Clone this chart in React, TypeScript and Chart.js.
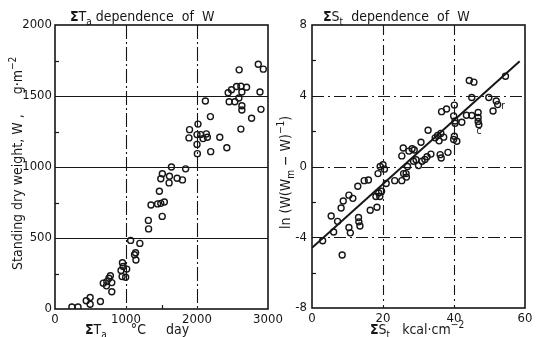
import { useEffect, useRef } from "react";
import { Chart, registerables } from "chart.js";

Chart.register(...registerables);

const FONT_FAMILY = "'DejaVu Sans Condensed', 'Liberation Sans Narrow', 'Liberation Sans', sans-serif";
const INK = "#161616";

// ---------- Left panel: ΣTa (°C day) vs standing dry weight W (g·m⁻²) ----------
const tempSumX = [
  238, 324, 440, 495, 495, 640, 680, 725, 730, 760,
  780, 800, 800, 930, 950, 945, 960, 995, 1010, 1065,
  1120, 1135, 1140, 1195, 1315, 1318, 1352, 1445, 1490, 1540,
  1510, 1470, 1490, 1512, 1612, 1640, 1607, 1720, 1795, 1840,
  1895, 1887, 2000, 2005, 2014, 2000, 2052, 2085, 2132, 2146,
  2118, 2189, 2193, 2321, 2420, 2439, 2486, 2557, 2618, 2698,
  2632, 2590, 2533, 2453, 2632, 2632, 2594, 2618, 2769, 2863,
  2934, 2887, 2901,
];
const dryWeightY = [
  14, 14, 58, 81, 33, 53, 182, 163, 193, 217,
  234, 186, 122, 271, 326, 228, 299, 224, 281, 483,
  382, 396, 345, 462, 624, 564, 732, 740, 744, 754,
  652, 829, 917, 952, 935, 1000, 888, 921, 909, 987,
  1263, 1205, 1159, 1094, 1302, 1228, 1228, 1200, 1233, 1210,
  1465, 1355, 1108, 1210, 1136, 1523, 1544, 1567, 1569, 1562,
  1528, 1486, 1459, 1459, 1431, 1401, 1684, 1267, 1343, 1724,
  1689, 1528, 1406,
];
const leftXTicks = [0, 1000, 2000, 3000];
const leftYTicks = [0, 500, 1000, 1500, 2000];
const leftXGrid = [1000, 2000];
const leftYGrid = [500, 1000, 1500];
const leftYMinor = [250, 750, 1250, 1750];
const leftXMinor = [1500];

// ---------- Right panel: ΣSt (kcal·cm⁻²) vs ln(W(Wm − W)⁻¹) ----------
const radSumX = [
  3.0, 5.4, 6.1, 7.2, 8.2, 8.5, 8.8, 10.4, 11.5, 10.4,
  10.8, 12.9, 13.1, 13.2, 13.5, 14.7, 15.9, 16.4, 18.0, 18.3,
  18.8, 19.1, 19.6, 18.6, 19.2, 20.0, 20.4, 20.9, 23.3, 25.3,
  25.8, 26.5, 26.6, 26.9, 25.3, 25.7, 27.3, 28.2, 28.8, 28.6,
  29.3, 30.0, 30.7, 31.0, 31.8, 32.4, 33.5, 32.7, 34.7, 35.4,
  36.3, 37.1, 35.8, 36.1, 36.4, 38.3, 36.5, 37.9, 40.1, 39.9,
  40.3, 40.3, 40.1, 39.9, 40.8, 42.2, 43.5, 45.0, 44.3, 45.6,
  45.0, 46.8, 46.8, 46.8, 47.0, 49.8, 51.9, 52.3, 51.0, 54.5,
];
const logRatioY = [
  -4.2, -2.8, -3.7, -3.1, -2.35, -5.0, -1.95, -1.62, -1.8, -3.45,
  -3.75, -1.12, -2.88, -3.13, -3.36, -0.8, -0.76, -2.47, -1.7, -2.3,
  -1.5, -1.7, -1.4, -0.4, 0.0, 0.1, -0.15, -0.96, -0.8, -0.8,
  -0.4, -0.4, -0.6, 0.0, 0.6, 1.05, 0.87, 1.0, 0.93, 0.3,
  0.38, 0.05, 1.37, 0.3, 0.4, 0.55, 0.7, 2.05, 1.62, 1.75,
  1.87, 1.66, 1.45, 0.67, 0.48, 0.8, 3.1, 3.25, 3.47, 2.86,
  2.57, 2.44, 1.71, 1.53, 1.43, 2.5, 2.9, 2.88, 4.86, 4.77,
  3.9, 3.05, 2.77, 2.55, 2.36, 3.9, 3.7, 3.5, 3.14, 5.1,
];
const fitX = [0, 58.5];
const fitY = [-4.6, 5.95];
const rightXTicks = [0, 20, 40, 60];
const rightYTicks = [-8, -4, 0, 4, 8];
const rightXGrid = [20, 40];
const rightYGrid = [-4, 0, 4];
const rightYMinor = [-6, -2, 2, 6];
const noteText = ["c", "r"];
const noteX = [47.0, 53.8];
const noteY = [2.0, 3.4];

type Seg = { t: string; s?: "sub" | "sup"; b?: boolean };

function drawRich(ctx: CanvasRenderingContext2D, segs: Seg[], x: number, y: number, size: number) {
  let cx = x;
  ctx.textAlign = "left";
  ctx.textBaseline = "alphabetic";
  for (const seg of segs) {
    const fs = seg.s ? size * 0.72 : size;
    ctx.font = `${seg.b ? "bold " : ""}${fs}px ${FONT_FAMILY}`;
    const dy = seg.s === "sub" ? size * 0.3 : seg.s === "sup" ? -size * 0.42 : 0;
    ctx.fillText(seg.t, cx, y + dy);
    cx += ctx.measureText(seg.t).width;
  }
}

type Decor = {
  xGrid: number[];
  yGrid: number[];
  xDash: number[];
  yDash: number[];
  xMinor: number[];
  yMinor: number[];
  title: Seg[];
  titlePos: [number, number];
  xTitle: Seg[];
  xTitlePos: [number, number];
  yTitle: Seg[];
  yTitlePos: [number, number];
  notes?: { text: string[]; x: number[]; y: number[] };
};

function decorPlugin(d: Decor) {
  return {
    id: "decor",
    beforeDatasetsDraw(chart: any) {
      const { ctx, chartArea: a, scales } = chart;
      const xs = scales.x;
      const ys = scales.y;
      ctx.save();
      ctx.strokeStyle = INK;
      ctx.lineWidth = 1.1;
      ctx.setLineDash(d.xDash);
      for (const v of d.xGrid) {
        const px = Math.round(xs.getPixelForValue(v)) + 0.5;
        ctx.beginPath();
        ctx.moveTo(px, a.top);
        ctx.lineTo(px, a.bottom);
        ctx.stroke();
      }
      ctx.setLineDash(d.yDash);
      for (const v of d.yGrid) {
        const py = Math.round(ys.getPixelForValue(v)) + 0.5;
        ctx.beginPath();
        ctx.moveTo(a.left, py);
        ctx.lineTo(a.right, py);
        ctx.stroke();
      }
      ctx.setLineDash([]);
      ctx.lineWidth = 1.2;
      for (const v of d.yMinor) {
        const py = Math.round(ys.getPixelForValue(v)) + 0.5;
        ctx.beginPath();
        ctx.moveTo(a.left, py);
        ctx.lineTo(a.left + 4, py);
        ctx.stroke();
      }
      for (const v of d.xMinor) {
        const px = Math.round(xs.getPixelForValue(v)) + 0.5;
        ctx.beginPath();
        ctx.moveTo(px, a.bottom);
        ctx.lineTo(px, a.bottom - 4);
        ctx.stroke();
      }
      ctx.lineWidth = 1.6;
      ctx.strokeRect(a.left, a.top, a.right - a.left, a.bottom - a.top);
      ctx.restore();
    },
    afterDraw(chart: any) {
      const { ctx, scales } = chart;
      ctx.save();
      ctx.fillStyle = INK;
      drawRich(ctx, d.title, d.titlePos[0], d.titlePos[1], 14);
      drawRich(ctx, d.xTitle, d.xTitlePos[0], d.xTitlePos[1], 14);
      ctx.save();
      ctx.translate(d.yTitlePos[0], d.yTitlePos[1]);
      ctx.rotate(-Math.PI / 2);
      drawRich(ctx, d.yTitle, 0, 0, 14);
      ctx.restore();
      if (d.notes) {
        ctx.font = `10px ${FONT_FAMILY}`;
        ctx.textAlign = "center";
        ctx.textBaseline = "middle";
        d.notes.text.forEach((t, i) => {
          ctx.fillText(t, scales.x.getPixelForValue(d.notes!.x[i]), scales.y.getPixelForValue(d.notes!.y[i]));
        });
      }
      ctx.restore();
    },
  };
}

function axis(min: number, max: number, ticks: number[], fit: (s: any) => void, pad: number) {
  return {
    type: "linear" as const,
    min,
    max,
    grid: { display: false, drawTicks: false, tickLength: 0 },
    border: { display: false },
    afterBuildTicks: (s: any) => {
      s.ticks = ticks.map((v) => ({ value: v }));
    },
    afterFit: fit,
    ticks: {
      color: INK,
      padding: pad,
      autoSkip: false,
      maxRotation: 0,
      font: { family: FONT_FAMILY, size: 13 },
      callback: (v: any) => String(v),
    },
  };
}

const pointStyle = {
  pointRadius: 3,
  pointBorderWidth: 1.4,
  borderColor: INK,
  backgroundColor: "rgba(255,255,255,0)",
  pointHoverRadius: 3,
};

function leftConfig(): any {
  return {
    type: "scatter",
    data: {
      datasets: [
        { data: tempSumX.map((x, i) => ({ x, y: dryWeightY[i] })), ...pointStyle },
      ],
    },
    options: {
      responsive: false,
      animation: false,
      devicePixelRatio: 1,
      events: [],
      layout: { padding: { left: 0, top: 25, right: 268, bottom: 0 } },
      plugins: { legend: { display: false }, tooltip: { enabled: false } },
      scales: {
        x: axis(0, 3000, leftXTicks, (s) => { s.height = 28; }, 3),
        y: axis(0, 2000, leftYTicks, (s) => { s.width = 55; }, 3),
      },
    },
    plugins: [
      decorPlugin({
        xGrid: leftXGrid,
        yGrid: leftYGrid,
        xDash: [14, 3, 2, 3],
        yDash: [],
        xMinor: leftXMinor,
        yMinor: leftYMinor,
        title: [{ t: "Σ", b: true }, { t: "T" }, { t: "a", s: "sub" }, { t: " dependence  of  W" }],
        titlePos: [70, 21],
        xTitle: [{ t: "Σ", b: true }, { t: "T" }, { t: "a", s: "sub" }, { t: "      °C     day" }],
        xTitlePos: [85, 334],
        yTitle: [{ t: "Standing dry weight, W ,     g·m" }, { t: "−2", s: "sup" }],
        yTitlePos: [22, 270],
      }),
    ],
  };
}

function rightConfig(): any {
  return {
    type: "scatter",
    data: {
      datasets: [
        { data: radSumX.map((x, i) => ({ x, y: logRatioY[i] })), ...pointStyle },
        {
          type: "line",
          data: fitX.map((x, i) => ({ x, y: fitY[i] })),
          borderColor: INK,
          borderWidth: 2,
          pointRadius: 0,
          fill: false,
        },
      ],
    },
    options: {
      responsive: false,
      animation: false,
      devicePixelRatio: 1,
      events: [],
      layout: { padding: { left: 282, top: 25, right: 11, bottom: 0 } },
      plugins: { legend: { display: false }, tooltip: { enabled: false } },
      scales: {
        x: axis(0, 60, rightXTicks, (s) => { s.height = 29; }, 3),
        y: axis(-8, 8, rightYTicks, (s) => { s.width = 30; }, 5),
      },
    },
    plugins: [
      decorPlugin({
        xGrid: rightXGrid,
        yGrid: rightYGrid,
        xDash: [10, 4, 2, 4],
        yDash: [12, 4, 2, 4],
        xMinor: [],
        yMinor: rightYMinor,
        title: [{ t: "Σ", b: true }, { t: "S" }, { t: "t", s: "sub" }, { t: "  dependence  of  W" }],
        titlePos: [323, 21],
        xTitle: [{ t: "Σ", b: true }, { t: "S" }, { t: "t", s: "sub" }, { t: "   kcal·cm" }, { t: "−2", s: "sup" }],
        xTitlePos: [370, 334],
        yTitle: [{ t: "ln (W(W" }, { t: "m", s: "sub" }, { t: " − W)" }, { t: "−1", s: "sup" }, { t: ")" }],
        yTitlePos: [290, 229],
        notes: { text: noteText, x: noteX, y: noteY },
      }),
    ],
  };
}

export default function App() {
  const leftRef = useRef<HTMLCanvasElement>(null);
  const rightRef = useRef<HTMLCanvasElement>(null);
  useEffect(() => {
    const c1 = new Chart(leftRef.current as HTMLCanvasElement, leftConfig());
    const c2 = new Chart(rightRef.current as HTMLCanvasElement, rightConfig());
    return () => {
      c1.destroy();
      c2.destroy();
    };
  }, []);
  const cs: any = { position: "absolute", left: 0, top: 0, width: 536, height: 337 };
  return (
    <div style={{ position: "absolute", left: 0, top: 0, width: 536, height: 337, background: "#fff" }}>
      <canvas ref={leftRef} width={536} height={337} style={cs} />
      <canvas ref={rightRef} width={536} height={337} style={cs} />
    </div>
  );
}
